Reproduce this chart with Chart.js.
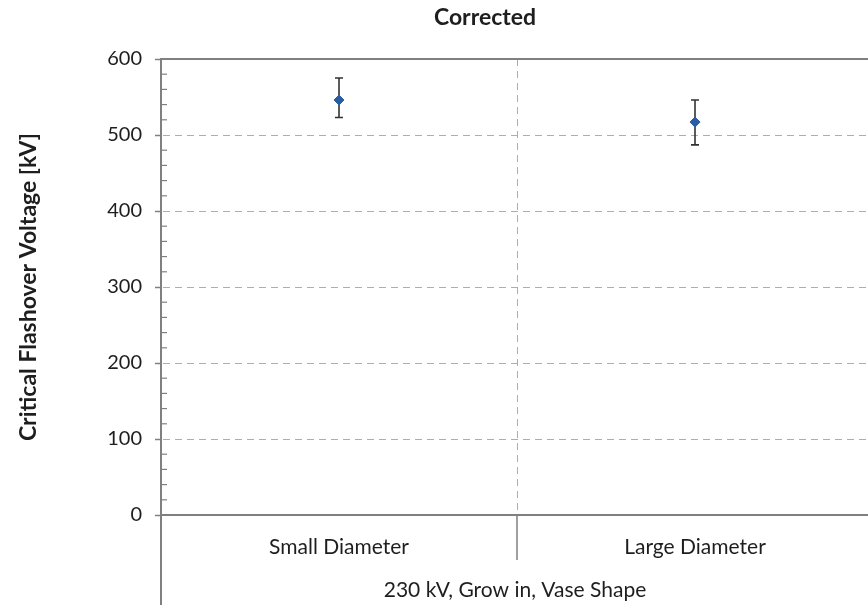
<!DOCTYPE html>
<html><head><meta charset="utf-8">
<script src="https://cdn.jsdelivr.net/npm/chart.js@4.4.0/dist/chart.umd.min.js"></script>
<style>
html,body{margin:0;padding:0;background:#fff;overflow:hidden;width:868px;height:605px}
#wrap{width:880px;height:605px}
canvas{display:block}
</style>
</head><body><div id="wrap"><canvas id="c" width="880" height="605"></canvas></div>
<script>
const chartTitle = 'Corrected';
const yAxisTitle = 'Critical Flashover Voltage [kV]';
const categories = ['Small Diameter', 'Large Diameter'];
const groupLabel = '230 kV, Grow in, Vase Shape';
const cfoValues = [546, 517];
const errLower = [523, 487];
const errUpper = [575, 546];
const yMin = 0, yMax = 600, yStep = 100, yMinorStep = 20;

const FONT = 'Lato, "Open Sans", sans-serif';
const AXIS_GRAY = '#808080';
const GRID_BLUE = '#8db3e2';
const TEXT = '#1e1e1e';

const decor = {
  id: 'decor',
  beforeDatasetsDraw(chart) {
    const {ctx, chartArea} = chart;
    const xs = chart.scales.x, ys = chart.scales.y;
    ctx.save();
    ctx.strokeStyle = GRID_BLUE;
    ctx.lineWidth = 1;
    ctx.setLineDash([7, 5]);
    ys.ticks.forEach(t => {
      if (t.value === yMin || t.value === yMax) return;
      const y = Math.round(ys.getPixelForValue(t.value)) + 0.5;
      ctx.beginPath();
      ctx.moveTo(chartArea.left + 2, y); ctx.lineTo(chartArea.right, y);
      ctx.stroke();
    });
    for (let i = 1; i < categories.length; i++) {
      const xb = Math.round((xs.getPixelForValue(i - 1) + xs.getPixelForValue(i)) / 2) + 0.5;
      ctx.beginPath();
      ctx.moveTo(xb, chartArea.top); ctx.lineTo(xb, chartArea.bottom);
      ctx.stroke();
    }
    ctx.setLineDash([]);
    ctx.strokeStyle = '#333333';
    ctx.lineWidth = 1.6;
    for (let i = 0; i < cfoValues.length; i++) {
      const x = xs.getPixelForValue(i);
      const yt = ys.getPixelForValue(errUpper[i]);
      const yb = ys.getPixelForValue(errLower[i]);
      ctx.beginPath();
      ctx.moveTo(x, yt); ctx.lineTo(x, yb);
      ctx.moveTo(x - 4, yt); ctx.lineTo(x + 4, yt);
      ctx.moveTo(x - 4, yb); ctx.lineTo(x + 4, yb);
      ctx.stroke();
    }
    ctx.restore();
  },
  afterDraw(chart) {
    const {ctx, chartArea} = chart;
    const xs = chart.scales.x, ys = chart.scales.y;
    ctx.save();
    ctx.strokeStyle = AXIS_GRAY;
    ctx.lineWidth = 2;
    const yTop = ys.getPixelForValue(yMax);
    ctx.beginPath();
    ctx.moveTo(chartArea.left, yTop); ctx.lineTo(chartArea.right, yTop);
    ctx.stroke();
    ctx.lineWidth = 1.2;
    for (let v = yMin + yMinorStep; v < yMax; v += yMinorStep) {
      if (v % yStep === 0) continue;
      const y = ys.getPixelForValue(v);
      ctx.beginPath();
      ctx.moveTo(chartArea.left, y); ctx.lineTo(chartArea.left + 6, y);
      ctx.stroke();
    }
    ctx.lineWidth = 2;
    ctx.beginPath();
    ctx.moveTo(chartArea.left, chartArea.bottom); ctx.lineTo(chartArea.left, chart.height);
    ctx.stroke();
    const xb = (xs.getPixelForValue(0) + xs.getPixelForValue(1)) / 2;
    ctx.lineWidth = 1.5;
    ctx.beginPath();
    ctx.moveTo(xb, chartArea.bottom); ctx.lineTo(xb, chartArea.bottom + 45);
    ctx.stroke();
    ctx.fillStyle = TEXT;
    ctx.textAlign = 'center';
    ctx.textBaseline = 'middle';
    ctx.font = '21px ' + FONT;
    ctx.fillText(groupLabel, xb - 2, 590);
    ctx.font = 'bold 23px ' + FONT;
    ctx.fillText(chartTitle, 485, 18);
    ctx.restore();
  }
};

new Chart(document.getElementById('c'), {
  type: 'line',
  data: {
    labels: categories,
    datasets: [{
      data: cfoValues,
      showLine: false,
      pointStyle: 'rectRot',
      pointRadius: 5,
      pointBackgroundColor: '#2a5ca3',
      pointBorderColor: '#2a5ca3',
      pointBorderWidth: 1
    }]
  },
  options: {
    responsive: false,
    animation: false,
    layout: {padding: {top: 59, right: 7, bottom: 0, left: 0}},
    plugins: {
      legend: {display: false},
      title: {display: false},
      tooltip: {enabled: false}
    },
    scales: {
      x: {
        type: 'category',
        offset: true,
        afterFit(s) { s.height = 90; },
        grid: {display: false, drawTicks: false},
        border: {display: true, color: AXIS_GRAY, width: 2},
        ticks: {color: TEXT, font: {family: FONT, size: 21}, padding: 20, maxRotation: 0}
      },
      y: {
        min: yMin, max: yMax,
        afterFit(s) { s.width = 161; },
        grid: {
          drawOnChartArea: false,
          drawTicks: true,
          tickLength: 6,
          tickColor: AXIS_GRAY,
          tickWidth: 1.5
        },
        border: {display: true, color: AXIS_GRAY, width: 2},
        ticks: {stepSize: yStep, color: TEXT, font: {family: FONT, size: 20}, padding: 13},
        title: {
          display: true,
          text: yAxisTitle,
          color: TEXT,
          font: {family: FONT, size: 23, weight: 'bold'},
          padding: {top: 15, bottom: 0}
        }
      }
    }
  },
  plugins: [decor]
});
</script>
</body></html>
